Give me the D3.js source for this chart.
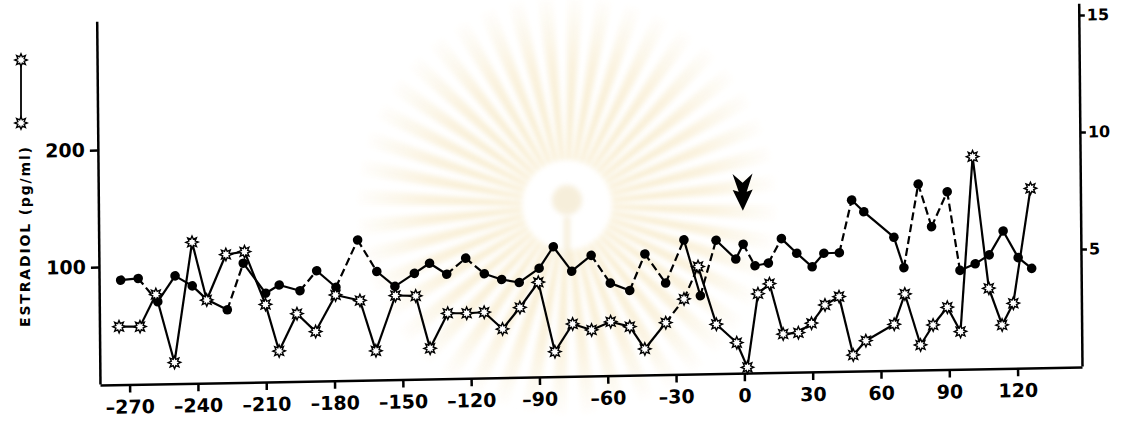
<!DOCTYPE html>
<html>
<head>
<meta charset="utf-8">
<script src="https://cdn.jsdelivr.net/npm/d3@7"></script>
<style>
  body { margin: 0; background: #fff; }
  .axis path, .axis line { stroke: #000; stroke-width: 2.5; }
  .axis text { font-family: "DejaVu Sans", sans-serif; font-weight: bold; fill: #000; }
</style>
</head>
<body>
<div id="chart"></div>
<script>
// days (x) and values
const xTicks = [-270, -240, -210, -180, -150, -120, -90, -60, -30, 0, 30, 60, 90, 120];
const leftTicks = [100, 200];
const rightTicks = [5, 10, 15];

// estradiol, open stars, left axis (pg/ml)
const starDays = [-274.4, -265.2, -258.1, -250.2, -242.0, -235.8, -227.2, -219.0, -210.0, -204.2,
  -196.2, -188.1, -179.2, -168.5, -161.7, -152.9, -144.0, -137.9, -130.0, -121.7,
  -114.0, -106.0, -98.3, -90.1, -83.1, -75.2, -66.9, -58.5, -50.1, -43.6,
  -34.3, -26.2, -19.9, -12.1, -3.2, 1.4, 6.3, 11.4, 17.2, 23.9,
  29.7, 35.7, 41.9, 47.9, 53.5, 66.0, 70.8, 77.5, 83.1, 89.4,
  95.1, 101.1, 107.7, 113.4, 118.4, 126.4];
const starValues = [48.7, 48.4, 75.6, 17.2, 119.7, 70.1, 108.7, 110.8, 65.4, 25.4,
  57.0, 41.4, 72.4, 67.3, 24.0, 71.0, 70.3, 25.3, 55.0, 54.7,
  55.3, 40.7, 58.8, 80.1, 20.5, 43.9, 38.5, 45.2, 40.7, 21.4,
  43.5, 63.5, 91.0, 41.4, 25.3, 4.1, 66.8, 75.2, 32.0, 32.9,
  40.8, 56.2, 63.1, 13.0, 25.0, 38.6, 64.3, 20.5, 37.4, 52.3,
  31.4, 180.6, 67.9, 36.3, 54.7, 152.6];
const starDashed = [30, 31]; // segment i -> i+1 drawn dashed

// filled circles, right axis
const dotDays = [-273.5, -265.8, -257.3, -249.6, -242.1, -235.8, -226.8, -219.6, -209.9, -203.9,
  -194.8, -187.4, -179.0, -169.3, -161.0, -153.1, -144.5, -137.8, -130.3, -121.9,
  -113.8, -106.2, -98.5, -89.7, -83.4, -75.4, -66.8, -58.5, -50.0, -43.2,
  -34.2, -26.0, -19.0, -11.9, -3.3, 0.0, 5.1, 11.0, 16.8, 23.5,
  30.2, 35.4, 42.2, 47.8, 53.1, 66.2, 70.5, 77.1, 82.8, 89.8,
  95.1, 101.8, 108.0, 114.2, 120.7, 126.6];
const dotValues = [4.42, 4.48, 3.47, 4.56, 4.12, 3.53, 3.07, 5.05, 3.75, 4.09,
  3.83, 4.67, 3.95, 5.95, 4.59, 3.94, 4.48, 4.90, 4.42, 5.09,
  4.41, 4.15, 4.01, 4.60, 5.51, 4.45, 5.11, 3.91, 3.58, 5.13,
  3.87, 5.70, 3.30, 5.66, 4.84, 5.47, 4.54, 4.64, 5.68, 5.04,
  4.45, 5.02, 5.03, 7.27, 6.76, 5.65, 4.34, 7.90, 6.07, 7.55,
  4.18, 4.45, 4.82, 5.83, 4.68, 4.21];
const dotDashed = [1, 6, 10, 12, 13, 18, 19, 26, 28, 29, 30, 32, 35, 37, 42, 46, 47, 48, 49];

const W = 1125, H = 429;
const svg = d3.select("#chart").append("svg")
  .attr("width", W).attr("height", H);
svg.append("rect").attr("width", W).attr("height", H).attr("fill", "#fff");

// faint watermark behind the plot
const defs = svg.append("defs");
const grad = defs.append("radialGradient").attr("id", "wmfade")
  .attr("gradientUnits", "userSpaceOnUse").attr("cx", 0).attr("cy", 0).attr("r", 215);
grad.append("stop").attr("offset", 0.2).attr("stop-color", "#f5e5bc");
grad.append("stop").attr("offset", 0.65).attr("stop-color", "#f9efd6");
grad.append("stop").attr("offset", 1).attr("stop-color", "#ffffff");
defs.append("filter").attr("id", "soft")
  .append("feGaussianBlur").attr("stdDeviation", 2.5);

const wm = svg.append("g").attr("transform", "translate(567,205)")
  .attr("filter", "url(#soft)").attr("opacity", 0.8);
const rays = d3.range(44);
wm.selectAll("path").data(rays).enter().append("path")
  .attr("d", function(d) {
    const a0 = d / 44 * 2 * Math.PI, a1 = a0 + 0.075;
    const r0 = 45, r1 = 210;
    return "M" + r0 * Math.cos(a0) + "," + r0 * Math.sin(a0) +
      "L" + r1 * Math.cos(a0) + "," + r1 * Math.sin(a0) +
      "L" + r1 * Math.cos(a1) + "," + r1 * Math.sin(a1) +
      "L" + r0 * Math.cos(a1) + "," + r0 * Math.sin(a1) + "Z";
  })
  .attr("fill", "url(#wmfade)");
wm.append("circle").attr("r", 15).attr("cy", -5).attr("fill", "#f4ead2");
wm.append("rect").attr("x", -3).attr("y", 12).attr("width", 6).attr("height", 55).attr("fill", "#f4ead2");

// the scan is slightly tilted: plot in a sheared frame
const g = svg.append("g").attr("transform", "matrix(1,-0.01833,0.00909,1,100,385)");

const x = d3.scaleLinear().domain([-283, 148.3]).range([0, 982]);
const yL = d3.scaleLinear().domain([0, 310]).range([-1, -363.7]);
const yR = d3.scaleLinear().domain([0, 15.5]).range([-1, -363.7]);

const dash = d => d < 0 ? "\u2013" + Math.abs(d) : String(d);

g.append("g").attr("class", "axis")
  .call(d3.axisBottom(x).tickValues(xTicks).tickSize(8).tickSizeOuter(0).tickPadding(7.5).tickFormat(dash))
  .call(s => s.selectAll("text").attr("font-size", 19));

g.append("g").attr("class", "axis")
  .call(d3.axisLeft(yL).tickValues(leftTicks).tickSize(8).tickSizeOuter(0).tickPadding(5))
  .call(s => s.selectAll("text").attr("font-size", 19));

g.append("g").attr("class", "axis").attr("transform", "translate(982,0)")
  .call(d3.axisRight(yR).tickValues(rightTicks).tickSize(6).tickSizeOuter(0).tickPadding(2))
  .call(s => s.selectAll("text").attr("font-size", 16));

// series lines, segment by segment so some can be dashed
function drawSegments(days, vals, yScale, dashed) {
  const seg = g.append("g");
  for (let i = 0; i < days.length - 1; i++) {
    seg.append("line")
      .attr("x1", x(days[i])).attr("y1", yScale(vals[i]))
      .attr("x2", x(days[i + 1])).attr("y2", yScale(vals[i + 1]))
      .attr("stroke", "#000").attr("stroke-width", 2.2)
      .attr("stroke-dasharray", dashed.indexOf(i) >= 0 ? "8,4" : null);
  }
}
drawSegments(dotDays, dotValues, yR, dotDashed);
drawSegments(starDays, starValues, yL, starDashed);

// star marker: 8 points, open
function starPath(ro, ri) {
  const pts = [];
  for (let k = 0; k < 16; k++) {
    const r = k % 2 ? ri : ro, a = k * Math.PI / 8 - Math.PI / 2;
    pts.push([r * Math.cos(a), r * Math.sin(a)]);
  }
  return "M" + pts.join("L") + "Z";
}
const star = starPath(6.2, 3.4);

g.append("g").selectAll("circle")
  .data(dotDays).enter().append("circle")
  .attr("cx", d => x(d))
  .attr("cy", (d, i) => yR(dotValues[i]))
  .attr("r", 4.8).attr("fill", "#000");

g.append("g").selectAll("path")
  .data(starDays).enter().append("path")
  .attr("d", star)
  .attr("transform", (d, i) => "translate(" + x(d) + "," + yL(starValues[i]) + ")")
  .attr("fill", "#fff").attr("stroke", "#000").attr("stroke-width", 1.4);

// arrow at day 0
g.append("path")
  .attr("transform", "translate(" + x(0) + "," + yL(138) + ")")
  .attr("d", "M0,0 L-10,-21 L-4,-19 L-10,-37 L0,-28 L10,-37 L4,-19 L10,-21 Z")
  .attr("fill", "#000");

// legend key and axis title
const key = svg.append("g");
key.append("line").attr("x1", 21).attr("x2", 21).attr("y1", 60).attr("y2", 123)
  .attr("stroke", "#000").attr("stroke-width", 1.8);
key.selectAll("path").data([60, 123]).enter().append("path")
  .attr("d", star)
  .attr("transform", d => "translate(21," + d + ")")
  .attr("fill", "#fff").attr("stroke", "#000").attr("stroke-width", 1.4);

svg.append("text")
  .attr("transform", "translate(30,237) rotate(-90)")
  .attr("text-anchor", "middle")
  .attr("font-family", "DejaVu Sans, sans-serif")
  .attr("font-weight", "bold")
  .attr("font-size", 14)
  .attr("textLength", 180).attr("lengthAdjust", "spacing")
  .text("ESTRADIOL (pg/ml)");
</script>
</body>
</html>
